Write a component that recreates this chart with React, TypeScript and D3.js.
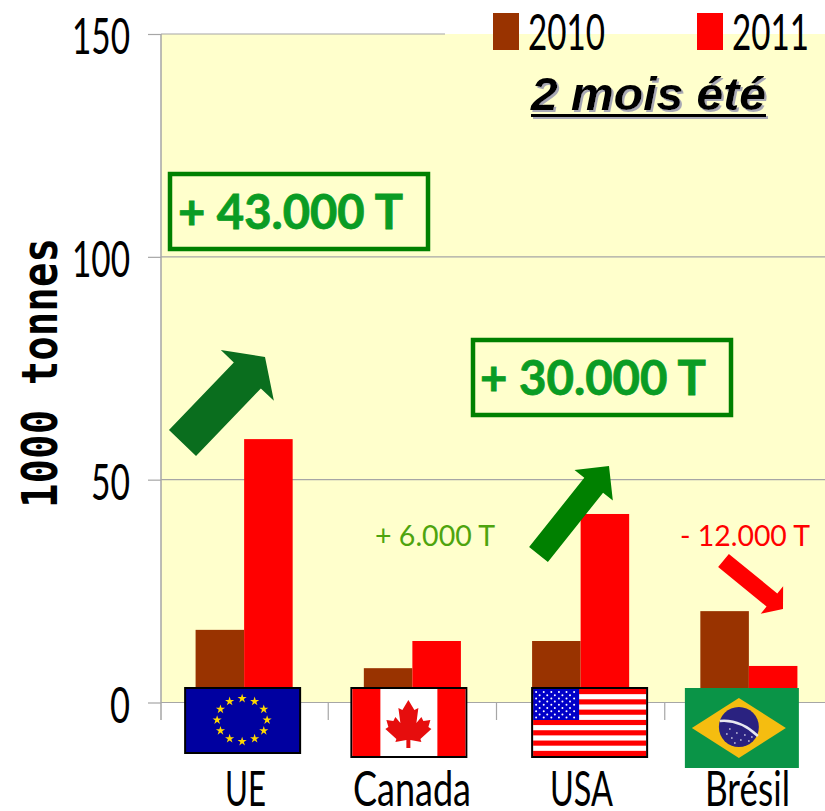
import React, { useEffect, useRef } from 'react'
import * as d3 from 'd3'

const categories = ['UE', 'Canada', 'USA', 'Brésil']
const values2010 = [16.3, 7.7, 13.8, 20.5]
const values2011 = [59.1, 13.8, 42.3, 8.2]
const yTickValues = [0, 50, 100, 150]
const seriesNames = ['2010', '2011']
const seriesColours = ['#993300', '#ff0000']

const W = 825
const H = 811
const FONT = 'Lato, "Open Sans", sans-serif'
const BOLD_GREEN = '#0a9c24'
const DARK_GREEN = '#008000'

// half of a maple leaf, in px from the top centre of the leaf
const leafHalf = [[0, 0], [6, 10], [10, 8], [8, 23], [13, 17], [15, 21], [22, 20], [20, 27], [23, 29], [12, 39], [13, 42], [2, 40], [2, 48]]

function arrowPath(x0, y0, x1, y1, shaft, head, headLen) {
  const len = Math.hypot(x1 - x0, y1 - y0)
  const ux = (x1 - x0) / len
  const uy = (y1 - y0) / len
  const nx = -uy
  const ny = ux
  const bx = x1 - ux * headLen
  const by = y1 - uy * headLen
  const p = (x, y, o) => `${x + nx * o},${y + ny * o}`
  return `M${p(x0, y0, shaft / 2)}L${p(bx, by, shaft / 2)}L${p(bx, by, head / 2)}L${x1},${y1}L${p(bx, by, -head / 2)}L${p(bx, by, -shaft / 2)}L${p(x0, y0, -shaft / 2)}Z`
}

// Calibri-like condensed text: squeezed to the width measured on the picture
function label(g, x0, x1, base, str, size, fill = '#000', weight = 400) {
  return g.append('text')
    .attr('x', x0)
    .attr('y', base)
    .attr('textLength', x1 - x0)
    .attr('lengthAdjust', 'spacingAndGlyphs')
    .attr('font-family', FONT)
    .attr('font-size', size)
    .attr('font-weight', weight)
    .attr('fill', fill)
    .text(str)
}

function drawFlags(svg, x) {
  const center = (c) => x(c) + x.bandwidth() / 2
  const star = d3.symbol().type(d3.symbolStar)

  // EU
  const eu = svg.append('g').attr('transform', `translate(${center('UE') - 60},687)`)
  eu.append('rect').attr('x', 1).attr('y', 1).attr('width', 115).attr('height', 65).attr('fill', '#0000a0').attr('stroke', '#000').attr('stroke-width', 2)
  d3.range(12).forEach(i => {
    const a = i * Math.PI / 6
    eu.append('path')
      .attr('d', star.size(26)())
      .attr('transform', `translate(${58 + 25 * Math.sin(a)},${33 - 21.5 * Math.cos(a)})`)
      .attr('fill', '#ffd800')
  })

  // Canada
  const ca = svg.append('g').attr('transform', `translate(${center('Canada') - 62},687)`)
  ca.append('rect').attr('x', 1).attr('y', 1).attr('width', 115).attr('height', 69).attr('fill', '#fff').attr('stroke', '#000').attr('stroke-width', 2)
  ca.append('rect').attr('x', 2).attr('y', 2).attr('width', 28).attr('height', 67).attr('fill', '#ff0000')
  ca.append('rect').attr('x', 87).attr('y', 2).attr('width', 28).attr('height', 67).attr('fill', '#ff0000')
  const leaf = leafHalf.concat(leafHalf.slice().reverse().map(([a, b]) => [-a, b]))
  ca.append('path')
    .attr('d', d3.line()(leaf) + 'Z')
    .attr('transform', 'translate(58,13)')
    .attr('fill', '#e60d0d')

  // USA
  const us = svg.append('g').attr('transform', `translate(${center('USA') - 49.5},687)`)
  us.append('rect').attr('width', 117).attr('height', 71).attr('fill', '#fff')
  d3.range(0, 13, 2).forEach(i => {
    us.append('rect').attr('x', 2).attr('y', 2 + i * 67 / 13).attr('width', 113).attr('height', 67 / 13).attr('fill', '#ff0000')
  })
  us.append('rect').attr('x', 2).attr('y', 2).attr('width', 46).attr('height', 31).attr('fill', '#0000c8')
  d3.range(9).forEach(r => {
    d3.range(r % 2 ? 5 : 6).forEach(c => {
      us.append('circle')
        .attr('cx', (r % 2 ? 8.5 : 5) + c * 7.6)
        .attr('cy', 5 + r * 3.2)
        .attr('r', 1)
        .attr('fill', '#fff')
    })
  })
  us.append('rect').attr('x', 1).attr('y', 1).attr('width', 115).attr('height', 69).attr('fill', 'none').attr('stroke', '#000').attr('stroke-width', 2)

  // Brazil
  const br = svg.append('g').attr('transform', `translate(${center('Brésil') - 64},688)`)
  br.append('rect').attr('width', 114).attr('height', 80).attr('fill', '#0a9447')
  br.append('path').attr('d', 'M7,40L54,10L101,40L54,70Z').attr('fill', '#f5bd10')
  br.append('circle').attr('cx', 54).attr('cy', 39).attr('r', 20).attr('fill', '#2a2280')
  br.append('path').attr('d', 'M35,33Q55,31 73,48').attr('fill', 'none').attr('stroke', '#e8e8f0').attr('stroke-width', 2.5)
  const dots = [[42, 46], [47, 50], [52, 45], [56, 52], [60, 47], [64, 53], [50, 55], [67, 49], [45, 41]]
  dots.forEach(([a, b]) => br.append('circle').attr('cx', a).attr('cy', b).attr('r', 0.8).attr('fill', '#fff'))
}

export default function App() {
  const ref = useRef(null)

  useEffect(() => {
    const svg = d3.select(ref.current)
    svg.selectAll('*').remove()

    const y = d3.scaleLinear().domain([0, 150]).range([702.5, 34])
    const x = d3.scaleBand().domain(categories).range([160, 833]).paddingInner(0.423).paddingOuter(0.2115)
    const sub = d3.scaleBand().domain(seriesNames).range([0, x.bandwidth()])

    // plot area
    svg.append('rect')
      .attr('x', 161).attr('y', 34)
      .attr('width', W - 161).attr('height', y(0) - 34)
      .attr('fill', '#ffffcc')

    // value axis, with the gridlines running across the plot
    const yAxis = svg.append('g')
      .attr('transform', 'translate(161,0)')
      .call(d3.axisLeft(y).tickValues(yTickValues).tickSize(13).tickFormat(() => ''))
    yAxis.select('.domain').remove()
    yAxis.selectAll('.tick line').attr('stroke', '#a6a6a6').attr('stroke-width', 1.2)
    svg.append('g').selectAll('line')
      .data(yTickValues)
      .enter().append('line')
      .attr('x1', 161)
      .attr('x2', d => d === 150 ? 445 : W)
      .attr('y1', d => y(d))
      .attr('y2', d => y(d))
      .attr('stroke', '#a6a6a6')
      .attr('stroke-width', 1.2)

    // category axis: axis line plus the ticks between the groups
    svg.append('line').attr('x1', 161).attr('x2', 161).attr('y1', 34).attr('y2', 720).attr('stroke', '#a6a6a6').attr('stroke-width', 1.5)
    categories.slice(1).forEach(c => {
      const tx = x(c) - x.step() * x.paddingInner() / 2
      svg.append('line').attr('x1', tx).attr('x2', tx).attr('y1', y(0)).attr('y2', 720).attr('stroke', '#a6a6a6').attr('stroke-width', 1.2)
    })

    // bars
    ;[values2010, values2011].forEach((vals, s) => {
      svg.append('g').selectAll('rect')
        .data(vals)
        .enter().append('rect')
        .attr('x', (d, i) => x(categories[i]) + sub(seriesNames[s]))
        .attr('width', sub.bandwidth())
        .attr('y', d => y(d))
        .attr('height', d => y(0) - y(d))
        .attr('fill', seriesColours[s])
    })

    drawFlags(svg, x)

    // tick labels
    const tickLeft = { 150: 72, 100: 72, 50: 91, 0: 110 }
    yTickValues.forEach(v => label(svg, tickLeft[v], 130, y(v) + 20, String(v), 50))

    const catSpan = { 'UE': [225, 266], 'Canada': [353, 471], 'USA': [550, 613], 'Brésil': [705, 790] }
    categories.forEach(c => label(svg, catSpan[c][0], catSpan[c][1], 806, c, 48))

    // y title
    svg.append('text')
      .attr('transform', 'translate(57,508) rotate(-90)')
      .attr('textLength', 270)
      .attr('lengthAdjust', 'spacingAndGlyphs')
      .attr('font-family', '"DejaVu Sans Mono", monospace')
      .attr('font-size', 50)
      .attr('font-weight', 700)
      .text('1000 tonnes')

    // legend
    svg.append('rect').attr('x', 493).attr('y', 13).attr('width', 26).attr('height', 37).attr('fill', seriesColours[0])
    svg.append('rect').attr('x', 697).attr('y', 13).attr('width', 26).attr('height', 37).attr('fill', seriesColours[1])
    label(svg, 528, 605, 50, seriesNames[0], 50)
    label(svg, 732, 809, 50, seriesNames[1], 50)

    // title, the shadow comes from a filter
    const shadow = svg.append('filter').attr('id', 'titleShadow')
    shadow.append('feDropShadow').attr('dx', 2).attr('dy', 2).attr('stdDeviation', 0.3).attr('flood-color', '#a8a8b4')
    const title = svg.append('g').attr('filter', 'url(#titleShadow)')
    title.append('text')
      .attr('x', 531).attr('y', 110)
      .attr('textLength', 235)
      .attr('lengthAdjust', 'spacingAndGlyphs')
      .attr('font-family', '"Liberation Sans", Arial, sans-serif')
      .attr('font-size', 47)
      .attr('font-weight', 700)
      .attr('font-style', 'italic')
      .text('2 mois été')
    title.append('rect').attr('x', 531).attr('y', 114).attr('width', 235).attr('height', 3).attr('fill', '#000')

    // boxed totals
    svg.append('rect').attr('x', 170).attr('y', 174).attr('width', 258).attr('height', 75).attr('fill', 'none').attr('stroke', DARK_GREEN).attr('stroke-width', 4.5)
    label(svg, 178, 403, 228.5, '+ 43.000 T', 47, BOLD_GREEN, 700).attr('stroke', BOLD_GREEN).attr('stroke-width', 0.8)
    svg.append('rect').attr('x', 473).attr('y', 340).attr('width', 258).attr('height', 75).attr('fill', 'none').attr('stroke', DARK_GREEN).attr('stroke-width', 4.5)
    label(svg, 480, 706, 395, '+ 30.000 T', 47, BOLD_GREEN, 700).attr('stroke', BOLD_GREEN).attr('stroke-width', 0.8)

    // small notes
    label(svg, 375, 495, 546, '+ 6.000 T', 29, '#4ea40e')
    label(svg, 680, 810, 546, '- 12.000 T', 29, '#ff0000')

    // arrows
    svg.append('path').attr('d', arrowPath(182.5, 443, 265, 357, 37.5, 73.5, 25.5)).attr('fill', '#0a6e1e')
    svg.append('path').attr('d', arrowPath(538.5, 554.5, 609, 466, 24, 49, 24.6)).attr('fill', DARK_GREEN)
    svg.append('path').attr('d', arrowPath(723.5, 560.5, 783, 609, 17, 35.5, 14.3)).attr('fill', '#ff0000')
  }, [])

  return (
    <svg ref={ref} width={W} height={H} style={{ position: 'absolute', left: 0, top: 0, display: 'block', background: '#fff' }} />
  )
}
